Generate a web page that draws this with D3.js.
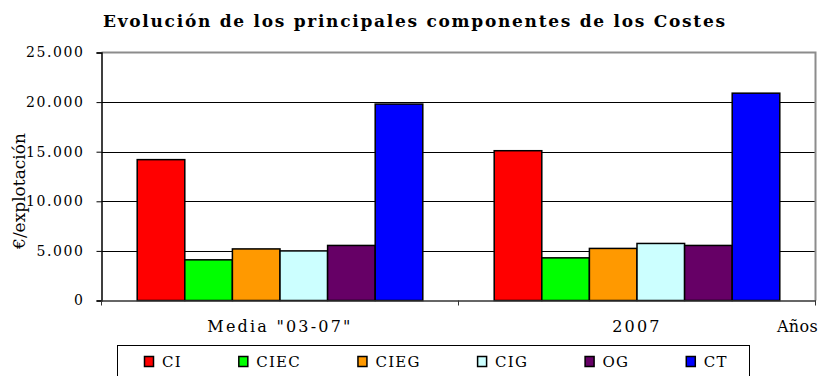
<!DOCTYPE html>
<html>
<head>
<meta charset="utf-8">
<script src="https://cdn.jsdelivr.net/npm/d3@7"></script>
<style>
  html, body { margin: 0; padding: 0; background: #fff; }
  svg { display: block; }
  text { font-family: "DejaVu Serif", "Liberation Serif", serif; fill: #000; }
</style>
</head>
<body>
<svg id="chart" width="826" height="376"></svg>
<script>
// Cost components per farm (€/explotación)
const categories = ['Media "03-07"', '2007'];
const seriesNames = ['CI', 'CIEC', 'CIEG', 'CIG', 'OG', 'CT'];
const valuesMedia = [14200, 4100, 5200, 5000, 5550, 19800];
const values2007 = [15100, 4300, 5250, 5750, 5550, 20900];
const yTicks = [0, 5000, 10000, 15000, 20000, 25000];

const seriesColors = ['#ff0000', '#00ff00', '#ff9900', '#ccffff', '#660066', '#0000ff'];

const rows = [valuesMedia, values2007].map((vals, i) => ({
  category: categories[i],
  values: seriesNames.map((s, j) => ({ series: s, value: vals[j] }))
}));

const svg = d3.select('#chart');
const plot = { left: 101.5, right: 815.5, top: 52.5, bottom: 300.5 };

const x0 = d3.scaleBand().domain(categories).range([plot.left, plot.right]).padding(0);
const x1 = d3.scaleBand().domain(seriesNames).range([0, x0.bandwidth()])
  .paddingInner(0).paddingOuter(0.75);
const y = d3.scaleLinear().domain([0, 25000]).range([plot.bottom, plot.top]);
const color = d3.scaleOrdinal().domain(seriesNames).range(seriesColors);

const es = d3.formatLocale({ decimal: ',', thousands: '.', grouping: [3], currency: ['', ' €'] });
const fmt = es.format(',');

// Title
svg.append('text')
  .attr('x', 414).attr('y', 27)
  .attr('text-anchor', 'middle')
  .attr('font-size', 17).attr('font-weight', 'bold')
  .attr('textLength', 622).attr('lengthAdjust', 'spacing')
  .text('Evolución de los principales componentes de los Costes');

// Horizontal gridlines
svg.append('g')
  .selectAll('line')
  .data(yTicks.filter(t => t > 0 && t < 25000))
  .join('line')
  .attr('x1', plot.left).attr('x2', plot.right)
  .attr('y1', d => Math.round(y(d)) + 0.5).attr('y2', d => Math.round(y(d)) + 0.5)
  .attr('stroke', '#000').attr('stroke-width', 1);

// Plot frame: top and right in grey
svg.append('path')
  .attr('d', `M${plot.left},${plot.top}H${plot.right}V${plot.bottom}`)
  .attr('fill', 'none').attr('stroke', '#8c8c8c').attr('stroke-width', 2);

// Bars
const groups = svg.append('g').selectAll('g')
  .data(rows).join('g')
  .attr('transform', d => `translate(${x0(d.category)},0)`);

groups.selectAll('rect')
  .data(d => d.values).join('rect')
  .attr('x', d => x1(d.series))
  .attr('y', d => y(d.value))
  .attr('width', x1.bandwidth())
  .attr('height', d => y(0) - y(d.value))
  .attr('fill', d => color(d.series))
  .attr('stroke', '#000').attr('stroke-width', 1.5);

// Y axis
const yAxis = svg.append('g')
  .attr('transform', `translate(${plot.left},0)`)
  .call(d3.axisLeft(y).tickValues(yTicks).tickSize(5).tickPadding(12).tickFormat(fmt));
yAxis.select('.domain').attr('stroke', '#000').attr('stroke-width', 1.5);
yAxis.selectAll('.tick line').attr('stroke', '#000');
yAxis.selectAll('.tick text')
  .attr('font-family', '"DejaVu Serif", serif')
  .attr('font-size', 14).attr('letter-spacing', 1.6);

// X axis (ticks at category boundaries)
const xAxis = svg.append('g')
  .attr('transform', `translate(0,${plot.bottom})`)
  .call(d3.axisBottom(x0).tickSize(0).tickFormat(''));
xAxis.select('.domain').attr('stroke', '#333').attr('stroke-width', 1.5);
xAxis.selectAll('.tick').remove();

const bounds = categories.map(c => x0(c)).concat([x0(categories[categories.length - 1]) + x0.bandwidth()]);
svg.append('g').selectAll('line')
  .data(bounds).join('line')
  .attr('x1', d => d).attr('x2', d => d)
  .attr('y1', plot.bottom).attr('y2', plot.bottom + 5)
  .attr('stroke', '#333').attr('stroke-width', 1);

svg.append('g').selectAll('text')
  .data(categories).join('text')
  .attr('x', d => x0(d) + x0.bandwidth() / 2)
  .attr('y', 332)
  .attr('text-anchor', 'middle')
  .attr('font-size', 16).attr('letter-spacing', 2.2)
  .text(d => d);

svg.append('text')
  .attr('x', 777).attr('y', 332)
  .attr('font-size', 16).attr('letter-spacing', 0.3)
  .text('Años');

// Y axis title
svg.append('text')
  .attr('transform', 'translate(25,191) rotate(-90)')
  .attr('text-anchor', 'middle')
  .attr('font-size', 17)
  .text('€/explotación');

// Legend
const legend = svg.append('g');
legend.append('rect')
  .attr('x', 117.5).attr('y', 345.5)
  .attr('width', 632).attr('height', 40)
  .attr('fill', '#fff').attr('stroke', '#000').attr('stroke-width', 1);

let lx = 144;
seriesNames.forEach(name => {
  const item = legend.append('g');
  item.append('rect')
    .attr('x', lx + 0.5).attr('y', 356.5)
    .attr('width', 9).attr('height', 10)
    .attr('fill', color(name)).attr('stroke', '#000').attr('stroke-width', 1.5);
  const t = item.append('text')
    .attr('x', lx + 18).attr('y', 367)
    .attr('font-size', 15).attr('letter-spacing', 1.2)
    .text(name);
  lx += 18 + t.node().getComputedTextLength() + 56.5;
});
</script>
</body>
</html>
